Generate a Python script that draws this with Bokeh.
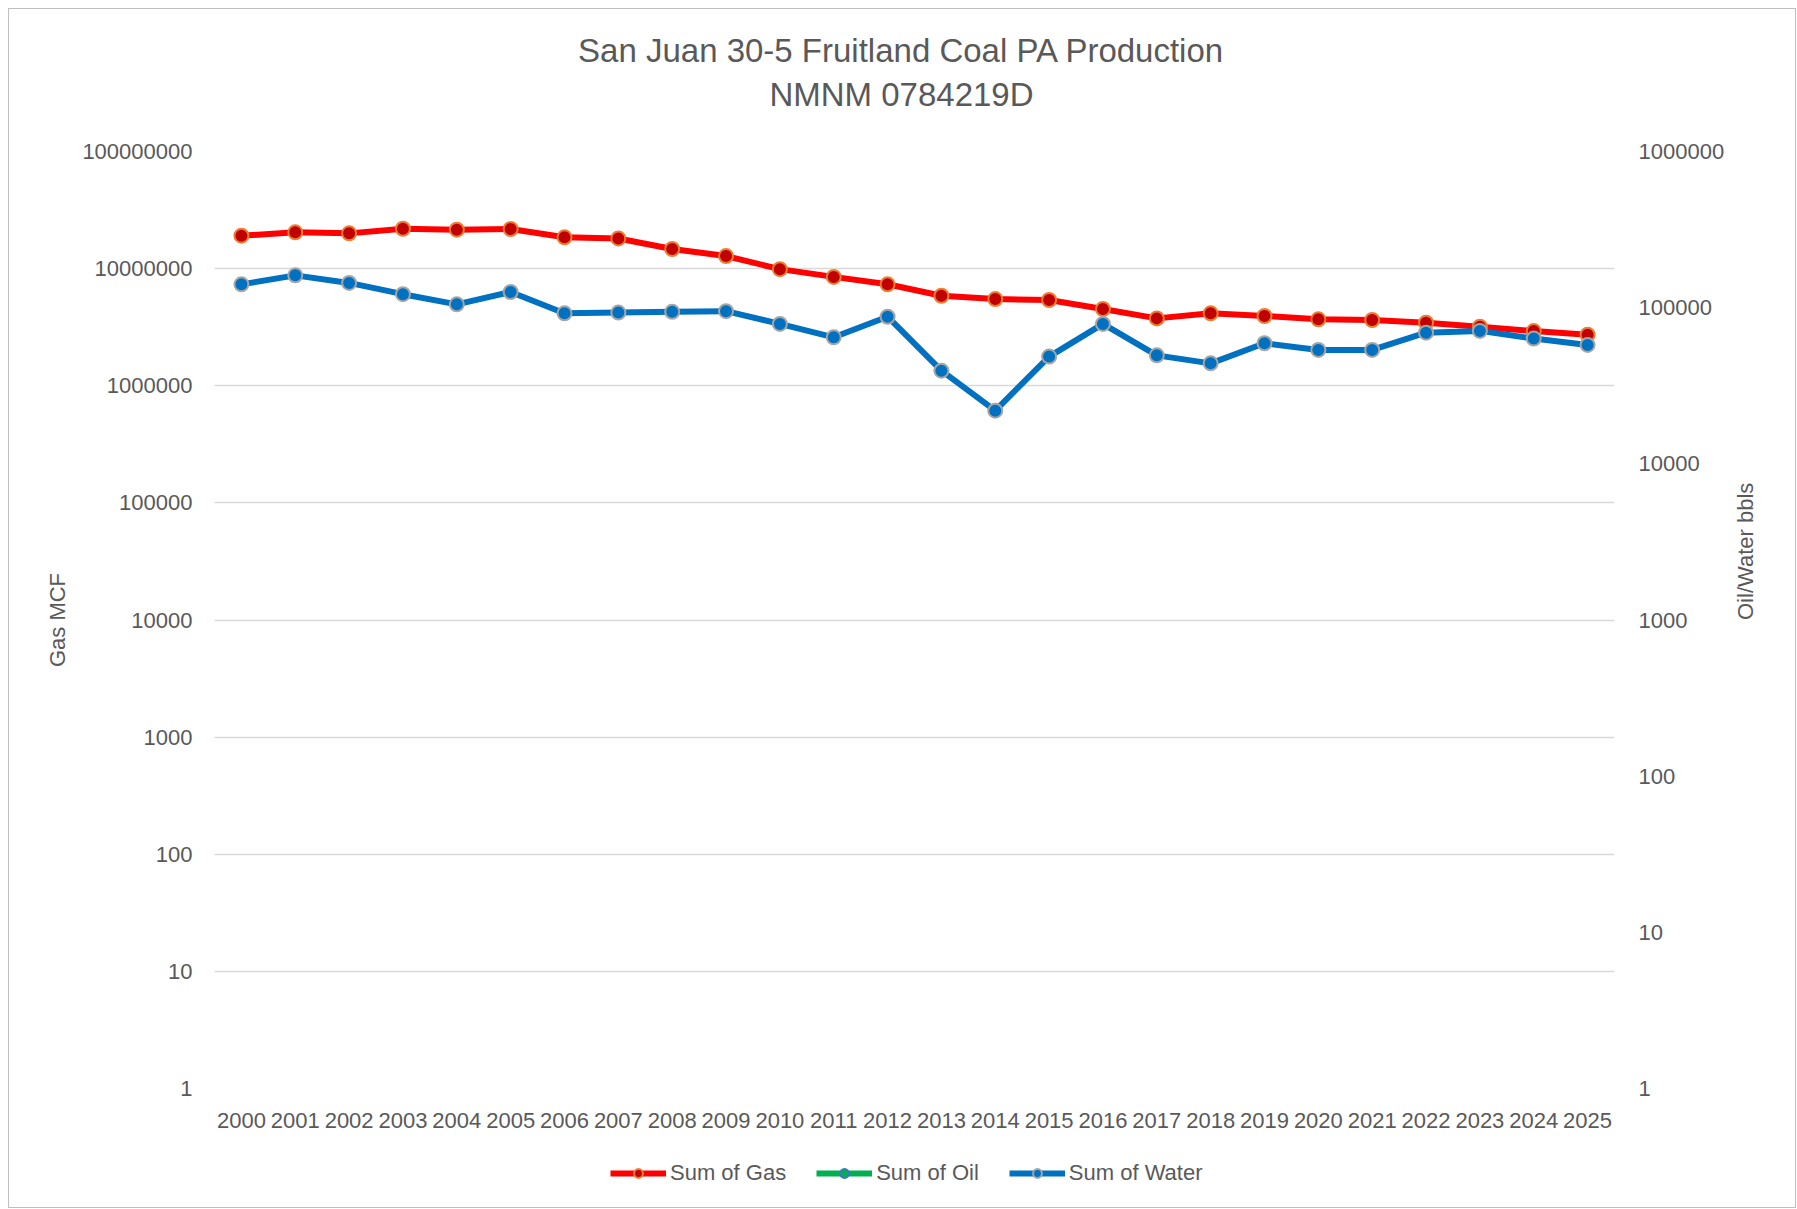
import math
from bokeh.plotting import figure
from bokeh.layouts import column
from bokeh.models import (FactorRange, Range1d, LogScale, LogAxis, FixedTicker, Label,
                          NumeralTickFormatter, Legend, LegendItem, ColumnDataSource)
from bokeh.embed import file_html
from bokeh.resources import INLINE

nan = float("nan")
years = [str(y) for y in range(2000, 2026)]
gas = [1.91e7, 2.04e7, 2.00e7, 2.19e7, 2.15e7, 2.18e7, 1.85e7, 1.81e7, 1.47e7, 1.28e7,
       9.9e6, 8.5e6, 7.35e6, 5.87e6, 5.5e6, 5.4e6, 4.52e6, 3.76e6, 4.15e6, 3.94e6,
       3.69e6, 3.64e6, 3.45e6, 3.19e6, 2.93e6, 2.73e6]
# oil: no plottable values on the log axis
oil = [nan, nan, nan, nan, nan, nan, nan, nan, nan, nan, nan, nan, nan,
       nan, nan, nan, nan, nan, nan, nan, nan, nan, nan, nan, nan, nan]
water = [1.41e5, 1.61e5, 1.44e5, 1.22e5, 1.05e5, 1.26e5, 9.2e4, 9.3e4, 9.4e4, 9.5e4,
         7.87e4, 6.46e4, 8.75e4, 3.95e4, 2.19e4, 4.86e4, 7.87e4, 4.95e4, 4.40e4, 5.92e4,
         5.36e4, 5.36e4, 6.92e4, 7.1e4, 6.34e4, 5.77e4]
left_ticks = [1, 10, 100, 1000, 10000, 100000, 1000000, 10000000, 100000000]
right_ticks = [1, 10, 100, 1000, 10000, 100000, 1000000]
title_lines = ["San Juan 30-5 Fruitland Coal PA Production", "NMNM 0784219D"]
series_names = ["Sum of Gas", "Sum of Oil", "Sum of Water"]

FONT = "Liberation Sans"
TXT = "#595959"
W = 1786

GAS_STYLE = dict(line=dict(line_color="#ff0000", line_width=6),
                 pts=dict(size=14, fill_color="#c00000", line_color="#ed7d31", line_width=2))
OIL_STYLE = dict(line=dict(line_color="#00b050", line_width=6),
                 pts=dict(size=14, fill_color="#00b050", line_color="#4472c4", line_width=2))
WAT_STYLE = dict(line=dict(line_color="#0070c0", line_width=6),
                 pts=dict(size=14, fill_color="#0070c0", line_color="#a5a5a5", line_width=2))


def blank_fig(height, x_range):
    f = figure(width=W, height=height, x_range=x_range, y_range=Range1d(0, 1),
               output_backend="svg", toolbar_location=None, min_border=0,
               x_axis_location=None, y_axis_location=None)
    f.outline_line_color = None
    f.grid.visible = False
    return f


# ---- title strip (its frame is aligned with the chart frame by the column) ----
tfig = blank_fig(127, Range1d(0, 1))
for txt, yy in zip(title_lines, [86, 42]):
    tfig.add_layout(Label(x=687, y=yy, x_units="screen", y_units="screen", text=txt,
                          text_align="center", text_baseline="middle", text_font=FONT,
                          text_font_size="33px", text_color=TXT))

# ---- main chart ----
p = figure(x_range=FactorRange(*years), y_range=Range1d(1, 1e8), y_axis_type="log",
           width=W, height=1002, output_backend="svg", toolbar_location=None,
           min_border_left=205, min_border_right=181, min_border_top=15, min_border_bottom=50)
p.outline_line_color = None
p.extra_y_ranges = {"r": Range1d(1, 1e6)}
p.extra_y_scales = {"r": LogScale()}

ax_r = LogAxis(y_range_name="r", ticker=FixedTicker(ticks=right_ticks),
               formatter=NumeralTickFormatter(format="0"), axis_label="Oil/Water bbls")
p.add_layout(ax_r, "right")

yl = p.yaxis[0]
yl.ticker = FixedTicker(ticks=left_ticks)
yl.formatter = NumeralTickFormatter(format="0")
yl.axis_label = "Gas MCF"
p.ygrid.ticker = FixedTicker(ticks=left_ticks)
p.ygrid.grid_line_color = "#d9d9d9"
p.ygrid.grid_line_width = 1.5
p.xgrid.visible = False

for ax in [yl, ax_r, p.xaxis[0]]:
    ax.axis_line_color = None
    ax.major_tick_line_color = None
    ax.minor_tick_line_color = None
    ax.major_label_text_font = FONT
    ax.major_label_text_font_size = "22px"
    ax.major_label_text_color = TXT
    ax.axis_label_text_font = FONT
    ax.axis_label_text_font_size = "22px"
    ax.axis_label_text_font_style = "normal"
    ax.axis_label_text_color = TXT
yl.major_label_standoff = 16
ax_r.major_label_standoff = 18
p.xaxis[0].major_label_standoff = 18
yl.axis_label_standoff = 9
ax_r.axis_label_standoff = 18
try:
    ax_r.axis_label_orientation = math.pi / 2
except Exception:
    pass

src = ColumnDataSource(dict(x=years, gas=gas, oil=oil, water=water))


def draw(fig, col, style, rng=None):
    kw = {} if rng is None else dict(y_range_name=rng)
    ln = fig.line("x", col, source=src, **style["line"], **kw)
    pt = fig.scatter("x", col, source=src, **style["pts"], **kw)
    return [ln, pt]


draw(p, "gas", GAS_STYLE)
draw(p, "oil", OIL_STYLE, "r")
draw(p, "water", WAT_STYLE, "r")

# ---- legend strip (same series, outside its visible range; only the legend shows) ----
lfig = blank_fig(69, FactorRange(*years))
r_g = draw(lfig, "gas", GAS_STYLE)
r_o = draw(lfig, "oil", OIL_STYLE)
r_w = draw(lfig, "water", WAT_STYLE)
legend = Legend(items=[LegendItem(label=series_names[0], renderers=r_g),
                       LegendItem(label=series_names[1], renderers=r_o),
                       LegendItem(label=series_names[2], renderers=r_w)],
                orientation="horizontal", location=(396, 21), border_line_color=None,
                background_fill_alpha=0, label_text_font=FONT, label_text_font_size="22px",
                label_text_color=TXT, glyph_width=56, glyph_height=22, label_height=22,
                spacing=30, padding=0, margin=0, label_standoff=4)
lfig.add_layout(legend, "center")

layout = column(tfig, p, lfig, spacing=0)
layout.styles = {"border": "1px solid #bfbfbf", "margin-left": "8px", "margin-top": "8px"}

open("out.html", "w").write(file_html(layout, INLINE))
